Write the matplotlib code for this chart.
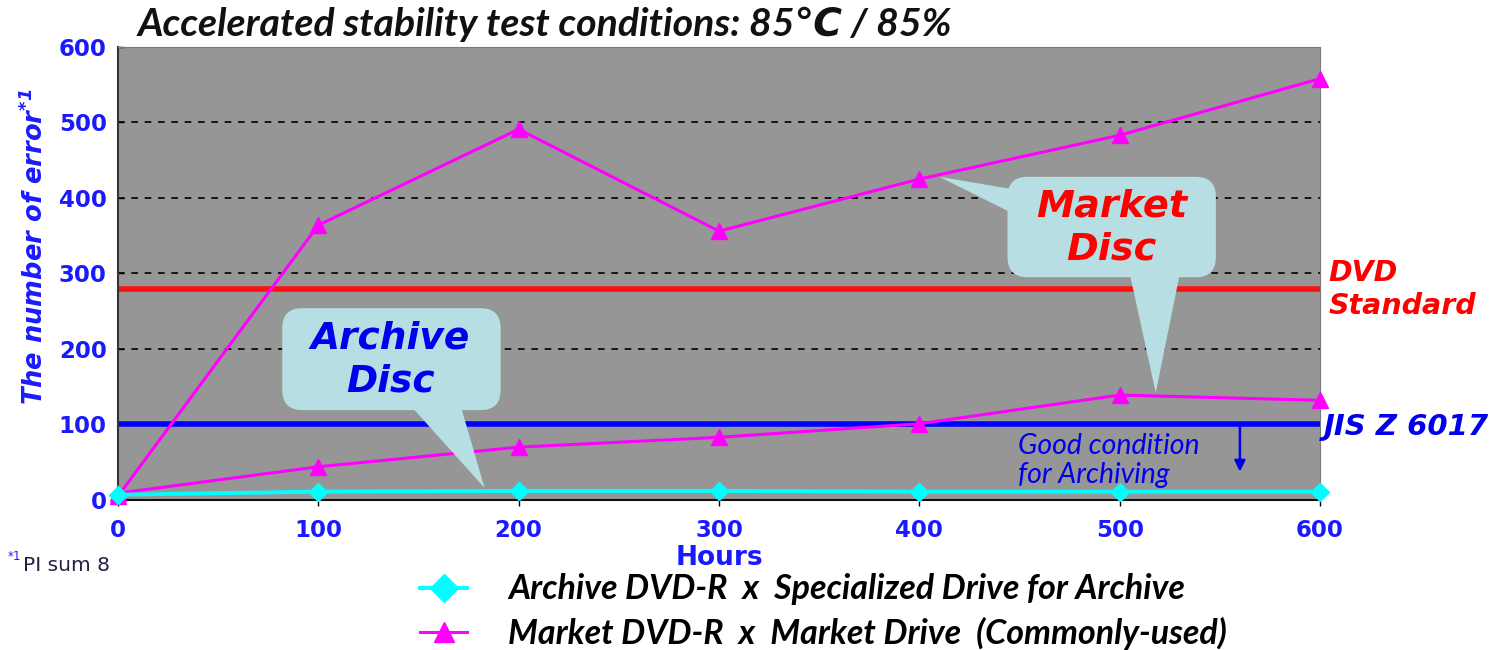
import matplotlib
matplotlib.use("Agg")
import matplotlib.pyplot as plt
from matplotlib.patches import FancyBboxPatch, Polygon
from matplotlib.lines import Line2D

hours = [0, 100, 200, 300, 400, 500, 600]
archive_errors = [7, 11, 12, 12, 11, 11, 11]
market_errors_high = [5, 364, 491, 356, 425, 483, 558]
market_errors_low = [9, 44, 70, 83, 101, 139, 132]
dvd_standard = 280
jis_limit = 100
yticks = [0, 100, 200, 300, 400, 500, 600]

BLUE = "#1a1aff"
CYAN = "#00ffff"
MAG = "#ff00ff"
BOXC = "#b7dfe3"

plt.rcParams['mathtext.default'] = 'regular'

fig = plt.figure(figsize=(14.97, 6.5), dpi=100)
ax = fig.add_axes([0.0788, 0.2308, 0.803, 0.697])
ax.set_facecolor("#969696")
ax.set_xlim(0, 600)
ax.set_ylim(0, 600)

ax.set_yticks(yticks)
ax.set_xticks(hours)
for y in yticks[1:-1]:
    ax.axhline(y, color="black", lw=1.2, ls=(0, (4, 4)), zorder=1)

ax.axhline(dvd_standard, color="#ff1010", lw=4, zorder=2)
ax.axhline(jis_limit, color="#0000ff", lw=4, zorder=2)

ax.plot(hours, market_errors_high, color=MAG, lw=2.2, marker="^", ms=11, zorder=3, clip_on=False)
ax.plot(hours, market_errors_low, color=MAG, lw=2.2, marker="^", ms=11, zorder=3, clip_on=False)
ax.plot(hours, archive_errors, color=CYAN, lw=2.8, marker="D", ms=9, zorder=3, clip_on=False)

tickfont = dict(family="DejaVu Sans", weight="bold", size=16.5, color=BLUE)
ax.set_yticklabels([str(v) for v in yticks], **tickfont)
ax.set_xticklabels([str(v) for v in hours], **tickfont)
ax.tick_params(axis="y", direction="in", length=4, width=1, pad=8)
ax.tick_params(axis="x", direction="out", length=4, width=1, pad=10)
for s in ["top", "right"]:
    ax.spines[s].set_color("#7a7a7a")
ax.spines["left"].set_color("#333333")
ax.spines["bottom"].set_color("#111111")
ax.spines["left"].set_linewidth(1.5)
ax.spines["bottom"].set_linewidth(1.5)

ax.set_xlabel("Hours", fontsize=19, fontweight="bold", color=BLUE, family="DejaVu Sans", labelpad=2)
ax.set_ylabel("The number of error$^{*1}$", fontsize=18.5, fontweight="bold", style="italic",
              color=BLUE, family="DejaVu Sans")
ax.yaxis.set_label_coords(-0.057, 0.56)

fig.text(0.092, 0.962, "Accelerated stability test conditions: 85℃ / 85%",
         family=["Lato", "DejaVu Sans"], style="italic", fontweight="bold", fontsize=28.3,
         color="#111111", va="center", ha="left")

# callouts
asp = (1 / 0.755) / (600 / 1202)
def callout(x0, y0, x1, y1, tails):
    box = FancyBboxPatch((x0, y0), x1 - x0, y1 - y0,
                         boxstyle="round,pad=0,rounding_size=10", mutation_aspect=asp,
                         fc=BOXC, ec="none", zorder=5)
    ax.add_patch(box)
    for t in tails:
        ax.add_patch(Polygon(t, closed=True, fc=BOXC, ec="none", zorder=5))

callout(82, 119, 191, 254, [[(146, 125), (171, 125), (183, 16)]])
callout(444, 295, 548, 428, [[(505, 300), (530, 300), (518, 142)],
                              [(450, 410), (450, 375), (410, 428)]])
ax.text(136, 185, "Archive\nDisc", ha="center", va="center", fontsize=27, fontweight="bold",
        style="italic", color="#0000ee", family="DejaVu Sans", linespacing=1.25, zorder=6)
ax.text(496, 360, "Market\nDisc", ha="center", va="center", fontsize=27.5, fontweight="bold",
        style="italic", color="#ff0000", family="DejaVu Sans", linespacing=1.25, zorder=6)

# right side labels
ax.text(604, 279, "DVD\nStandard", ha="left", va="center", fontsize=20.5, fontweight="bold",
        style="italic", color="#ff0000", family="DejaVu Sans", linespacing=1.2, clip_on=False)
ax.text(602, 96, "JIS Z 6017", ha="left", va="center", fontsize=21, fontweight="bold",
        style="italic", color="#0000ee", family="DejaVu Sans", clip_on=False)
ax.text(449, 52, "Good condition\nfor Archiving", ha="left", va="center", fontsize=20.5,
        style="italic", color="#0000ee", family=["Lato", "DejaVu Sans"], linespacing=1.15, zorder=4)
ax.annotate("", xy=(560, 34), xytext=(560, 101),
            arrowprops=dict(arrowstyle="-|>", color="#0000ee", lw=1.8, mutation_scale=16), zorder=4)

# footnote
fig.text(0.005, 0.137, "$^{*1}$", color=BLUE, fontsize=12, family="DejaVu Sans", va="center")
fig.text(0.0155, 0.130, "PI sum 8", color="#222244", fontsize=14.5, family="DejaVu Sans", va="center")

handles = [Line2D([], [], color=CYAN, lw=2.8, marker="D", ms=14),
           Line2D([], [], color=MAG, lw=2.2, marker="^", ms=15)]
labels = ["Archive DVD-R  x  Specialized Drive for Archive",
          "Market DVD-R  x  Market Drive  (Commonly-used)"]
leg = fig.legend(handles, labels, loc="center left", bbox_to_anchor=(0.26, 0.059),
                 frameon=False, handlelength=1.4, handletextpad=1.2, labelspacing=0.33,
                 prop=dict(family=["Lato", "DejaVu Sans"], style="italic", weight="bold", size=24.5))

fig.savefig("out.png", dpi=100)
